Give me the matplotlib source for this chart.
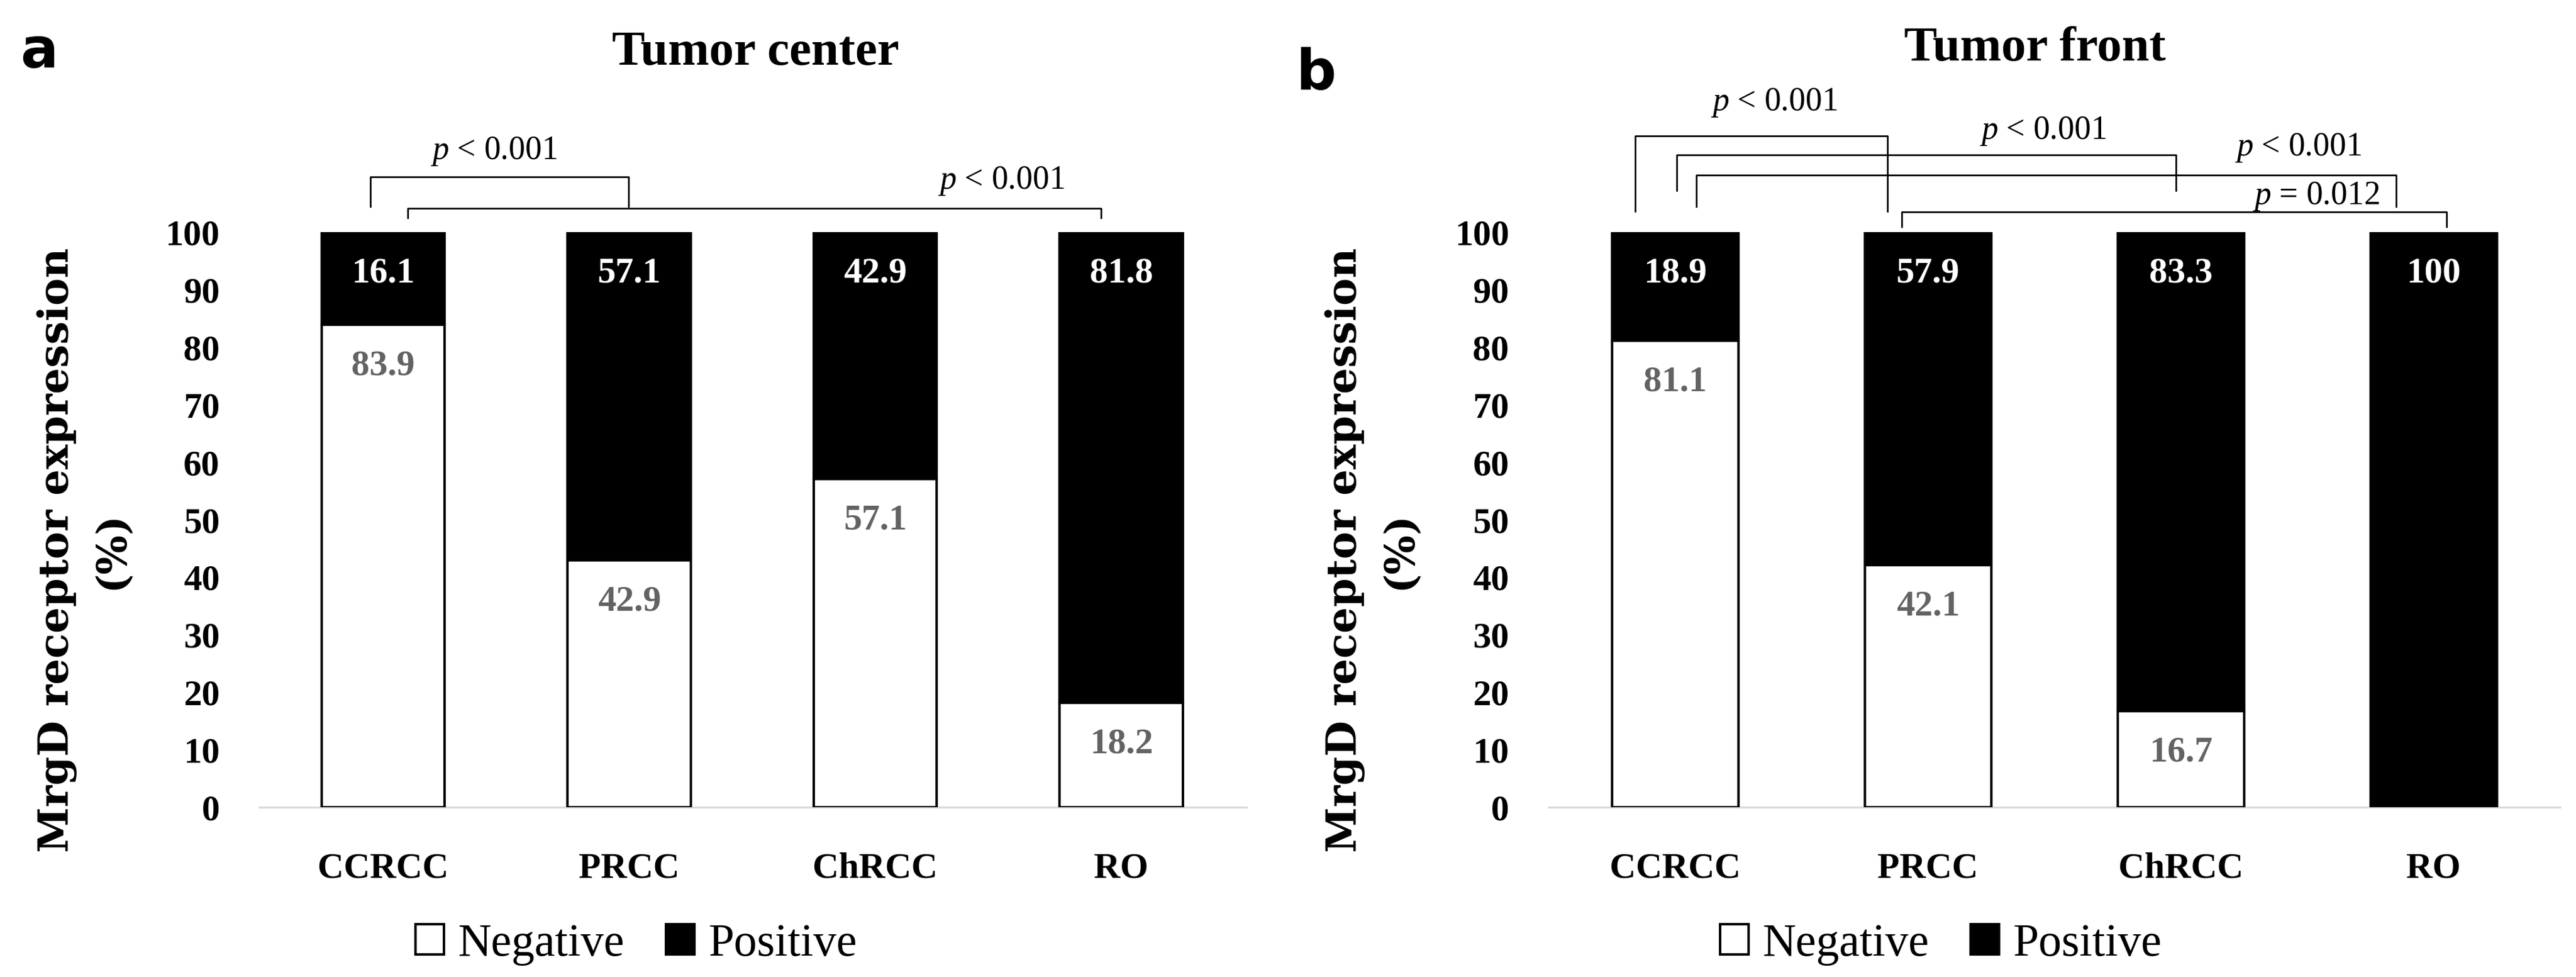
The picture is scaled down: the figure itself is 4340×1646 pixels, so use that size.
import matplotlib
matplotlib.use('Agg')
from matplotlib import pyplot as plt
from matplotlib.patches import Patch
from matplotlib import font_manager as fm

plt.rcParams['font.family'] = ['Liberation Serif', 'DejaVu Serif']
plt.rcParams['mathtext.fontset'] = 'custom'
plt.rcParams['mathtext.it'] = 'Liberation Serif:italic'
plt.rcParams['mathtext.rm'] = 'Liberation Serif'

'''MrgD receptor expression, tumor center vs tumor front'''
categories = ['CCRCC', 'PRCC', 'ChRCC', 'RO']
center_neg = [83.9, 42.9, 57.1, 18.2]
center_pos = [16.1, 57.1, 42.9, 81.8]
front_neg = [81.1, 42.1, 16.7, 0]
front_pos = [18.9, 57.9, 83.3, 100]

center_p = ['$p$ < 0.001', '$p$ < 0.001']
front_p = ['$p$ < 0.001', '$p$ < 0.001', '$p$ < 0.001', '$p$ = 0.012']

# bracket layout: x left, x right, y top, y leg end, text x, text y
center_br = [(-0.052, 0.998, 109.6, 104.4, 0.45, 112.7),
             (0.100, 2.918, 104.1, 102.5, 2.513, 107.5)]
front_br = [(-0.157, 0.840, 116.7, 103.6, 0.392, 121.2),
            (0.007, 1.981, 113.4, 107.2, 1.455, 116.2),
            (0.085, 2.852, 109.9, 104.4, 2.465, 113.3),
            (0.897, 3.051, 103.5, 100.9, 2.535, 104.9)]


def draw_panel(ax, neg, pos, p_txt, brackets, xlim):
	x = list(range(len(categories)))
	ax.bar(x, neg, width=0.5, color='white', edgecolor='black', linewidth=1.5, zorder=3)
	ax.bar(x, pos, width=0.5, bottom=neg, color='black', edgecolor='black', linewidth=1.5, zorder=3)
	for i in x:
		if neg[i] > 0:
			ax.annotate(f'{neg[i]:g}', (i, neg[i]), xytext=(0, -25), textcoords='offset points',
						ha='center', va='center', color='#636363', fontsize=22, fontweight='bold', zorder=4)
		if pos[i] > 0:
			ax.annotate(f'{pos[i]:g}', (i, neg[i] + pos[i]), xytext=(0, -25), textcoords='offset points',
						ha='center', va='center', color='white', fontsize=22, fontweight='bold', zorder=4)
	for (x0, x1, yt, yb, tx, ty), t in zip(brackets, p_txt):
		ax.plot([x0, x0, x1, x1], [yb, yt, yt, yb], color='black', lw=1.0, clip_on=False)
		ax.text(tx, ty, t, ha='center', va='baseline', fontsize=20, clip_on=False)
	ax.set_xlim(*xlim)
	ax.set_ylim(0, 100)
	ax.set_yticks(range(0, 101, 10))
	ax.set_xticks(x)
	ax.set_xticklabels(categories)
	for s in ['top', 'right', 'left']:
		ax.spines[s].set_visible(False)
	ax.spines['bottom'].set_color('#d9d9d9')
	ax.spines['bottom'].set_linewidth(1.2)
	ax.tick_params(axis='y', length=0, pad=24, labelsize=22)
	ax.tick_params(axis='x', length=0, pad=27, labelsize=22)
	for lab in ax.get_xticklabels() + ax.get_yticklabels():
		lab.set_fontweight('bold')


fig = plt.figure(figsize=(21.7, 8.23), dpi=200)
ax1 = fig.add_axes([0.1007, 0.17375, 0.3832, 0.5887])
ax2 = fig.add_axes([0.6012, 0.17375, 0.3926, 0.5887])
draw_panel(ax1, center_neg, center_pos, center_p, center_br, (-0.503, 3.509))
draw_panel(ax2, front_neg, front_pos, front_p, front_br, (-0.5, 3.5))

for xpos in [0.0327, 0.5327]:
	fig.text(xpos, 0.437, 'MrgD receptor expression\n(%)', rotation=90, ha='center', va='center',
			 multialignment='center', linespacing=1.45, fontsize=25, fontweight='bold', family='DejaVu Serif')

fig.text(0.2933, 0.934, 'Tumor center', ha='center', va='baseline', fontsize=30, fontweight='bold')
fig.text(0.790, 0.938, 'Tumor front', ha='center', va='baseline', fontsize=30, fontweight='bold')
fig.text(0.008, 0.931, 'a', ha='left', va='baseline', fontsize=34, fontweight='bold', family='DejaVu Sans')
fig.text(0.503, 0.908, 'b', ha='left', va='baseline', fontsize=34, fontweight='bold', family='DejaVu Sans')

serif_path = fm.findfont(fm.FontProperties(family='Liberation Serif', weight='normal'))
leg_font = fm.FontProperties(fname=serif_path, size=28)
for cx in [0.247, 0.7535]:
	handles = [Patch(facecolor='white', edgecolor='black', linewidth=1.5, label='Negative'),
			   Patch(facecolor='black', edgecolor='black', linewidth=1.5, label='Positive')]
	fig.legend(handles=handles, loc='center', bbox_to_anchor=(cx, 0.0334), ncol=2, frameon=False,
			   prop=leg_font, handlelength=0.62, handleheight=0.62,
			   handletextpad=0.3, columnspacing=0.9, borderpad=0)

fig.savefig('out.png', dpi=200)
